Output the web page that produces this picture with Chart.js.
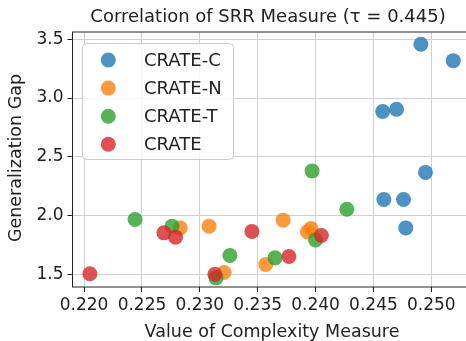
<!DOCTYPE html>
<html lang="en">

<head>
    <meta charset="UTF-8">
    <title>Correlation of SRR Measure</title>
    <script src="https://cdn.jsdelivr.net/npm/chart.js"></script>
    <style>
        html, body { margin: 0; padding: 0; background: #fff; overflow: hidden; }
        #wrap { width: 470px; height: 341px; position: relative; }
    </style>
</head>

<body>
    <div id="wrap">
        <canvas id="grafico"></canvas>
    </div>

<script>
    // dados
    const seriesNames = ['CRATE-C', 'CRATE-N', 'CRATE-T', 'CRATE'];

    const crateCX = [0.2491, 0.2519, 0.2458, 0.2470, 0.2495, 0.2459, 0.2476, 0.2478];
    const crateCY = [3.458, 3.318, 2.885, 2.905, 2.367, 2.136, 2.136, 1.895];

    const crateNX = [0.2372, 0.2396, 0.2393, 0.2357, 0.2321, 0.2308, 0.2283];
    const crateNY = [1.961, 1.890, 1.861, 1.583, 1.515, 1.910, 1.895];

    const crateTX = [0.2397, 0.2427, 0.2400, 0.2326, 0.2365, 0.2244, 0.2276, 0.2314];
    const crateTY = [2.380, 2.054, 1.793, 1.660, 1.640, 1.966, 1.910, 1.470];

    const crateX = [0.2205, 0.2269, 0.2279, 0.2345, 0.2405, 0.2377, 0.2313];
    const crateY = [1.505, 1.853, 1.816, 1.865, 1.830, 1.652, 1.500];

    const xTicks = [0.220, 0.225, 0.230, 0.235, 0.240, 0.245, 0.250];
    const yTicks = [1.5, 2.0, 2.5, 3.0, 3.5];

    const cores = ['rgba(31,119,180,0.8)', 'rgba(255,127,14,0.8)', 'rgba(44,160,44,0.8)', 'rgba(214,39,40,0.8)'];
    const fonte = "'DejaVu Sans', sans-serif";

    function juntar(xs, ys) {
        let pontos = [];
        for (let i = 0; i < xs.length; i++) {
            pontos.push({ x: xs[i], y: ys[i] });
        }
        return pontos;
    }

    const listaX = [crateCX, crateNX, crateTX, crateX];
    const listaY = [crateCY, crateNY, crateTY, crateY];

    let datasets = [];
    for (let i = 0; i < seriesNames.length; i++) {
        datasets.push({
            label: seriesNames[i],
            data: juntar(listaX[i], listaY[i]),
            backgroundColor: cores[i],
            borderWidth: 0,
            pointRadius: 7.5,
            pointHoverRadius: 7.5,
            order: seriesNames.length - i
        });
    }

    // moldura, titulos e legenda desenhados a mao
    const extras = {
        id: 'extras',
        afterDatasetsDraw(chart) {
            const ctx = chart.ctx;
            const a = chart.chartArea;
            ctx.save();

            // moldura
            ctx.strokeStyle = '#222';
            ctx.lineWidth = 1;
            ctx.strokeRect(a.left, a.top, a.right - a.left, a.bottom - a.top);

            ctx.fillStyle = '#222';
            ctx.textAlign = 'center';
            ctx.textBaseline = 'alphabetic';

            // titulo
            ctx.font = '18px ' + fonte;
            ctx.fillText('Correlation of SRR Measure (\u03C4 = 0.445)', 268, 22);

            // titulo eixo x
            ctx.font = '17.5px ' + fonte;
            ctx.fillText('Value of Complexity Measure', 272, 337);

            // titulo eixo y
            ctx.translate(21, 158);
            ctx.rotate(-Math.PI / 2);
            ctx.fillText('Generalization Gap', 0, 0);
            ctx.setTransform(1, 0, 0, 1, 0, 0);

            // legenda
            const lx = 82, ly = 43, lw = 151, lh = 116;
            ctx.fillStyle = 'rgba(255,255,255,0.8)';
            ctx.strokeStyle = '#cccccc';
            ctx.beginPath();
            ctx.roundRect(lx + 0.5, ly + 0.5, lw, lh, 4);
            ctx.fill();
            ctx.stroke();

            ctx.textAlign = 'left';
            ctx.textBaseline = 'middle';
            ctx.font = '18px ' + fonte;
            chart.data.datasets.forEach(function (ds, i) {
                const yy = 60 + i * 28.1;
                ctx.fillStyle = ds.backgroundColor;
                ctx.beginPath();
                ctx.arc(108.3, yy, 7.5, 0, Math.PI * 2);
                ctx.fill();
                ctx.fillStyle = '#222';
                ctx.fillText(ds.label, 144, yy + 1);
            });

            ctx.restore();
        }
    };

    const config = {
        type: 'scatter',
        data: { datasets: datasets },
        options: {
            responsive: false,
            animation: false,
            devicePixelRatio: 1,
            layout: { autoPadding: false, padding: { top: 32, right: 1, left: 0, bottom: 0 } },
            plugins: {
                legend: { display: false },
                title: { display: false },
                tooltip: { enabled: false }
            },
            scales: {
                x: {
                    type: 'linear',
                    min: 0.218998,
                    max: 0.253258,
                    afterBuildTicks: function (scale) {
                        scale.ticks = xTicks.map(v => ({ value: v }));
                    },
                    afterFit: function (scale) {
                        scale.height = 54;
                        scale.paddingLeft = 0;
                        scale.paddingRight = 0;
                    },
                    border: { display: false },
                    grid: { color: '#d0d0d0', lineWidth: 1, tickLength: 5, tickColor: '#222' },
                    ticks: {
                        color: '#222',
                        padding: 3,
                        maxRotation: 0,
                        font: { family: fonte, size: 17 },
                        callback: v => v.toFixed(3)
                    }
                },
                y: {
                    type: 'linear',
                    min: 1.392,
                    max: 3.562,
                    afterBuildTicks: function (scale) {
                        scale.ticks = yTicks.map(v => ({ value: v }));
                    },
                    afterFit: function (scale) {
                        scale.width = 72.5;
                        scale.paddingTop = 0;
                        scale.paddingBottom = 0;
                    },
                    border: { display: false },
                    grid: { color: '#d0d0d0', lineWidth: 1, tickLength: 5, tickColor: '#222' },
                    ticks: {
                        color: '#222',
                        padding: 4,
                        font: { family: fonte, size: 17 },
                        callback: v => v.toFixed(1)
                    }
                }
            }
        },
        plugins: [extras]
    };

    const canvas = document.getElementById('grafico');
    canvas.width = 470;
    canvas.height = 341;
    let meuGrafico = new Chart(canvas, config);
</script>
</body>

</html>
